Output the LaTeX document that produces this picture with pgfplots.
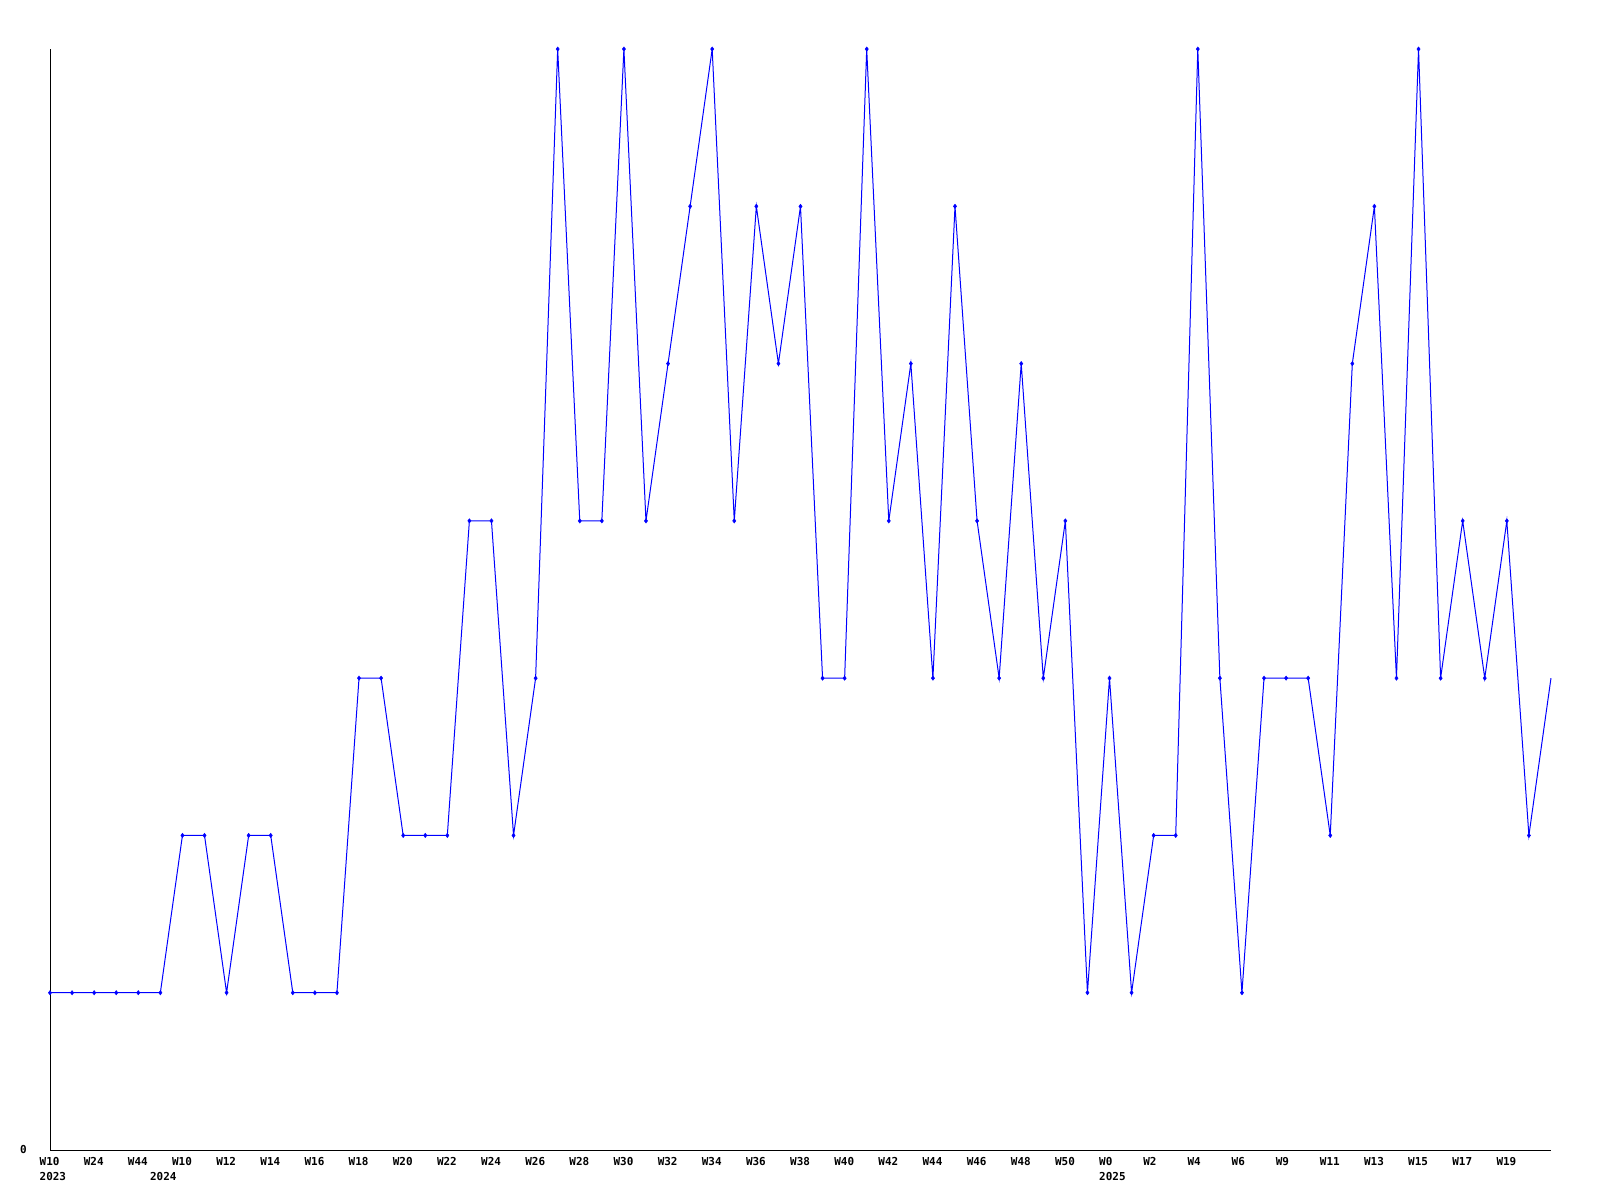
\documentclass[border=0pt]{standalone}
\usepackage{pgfplots}
\pgfplotsset{compat=1.18}
\usepackage{pgfplotstable}
\usepackage{fontspec}
\setmainfont{DejaVu Sans Mono}
\pgfplotstableread{
x y
0 1
1 1
2 1
3 1
4 1
5 1
6 2
7 2
8 1
9 2
10 2
11 1
12 1
13 1
14 3
15 3
16 2
17 2
18 2
19 4
20 4
21 2
22 3
23 7
24 4
25 4
26 7
27 4
28 5
29 6
30 7
31 4
32 6
33 5
34 6
35 3
36 3
37 7
38 4
39 5
40 3
41 6
42 4
43 3
44 5
45 3
46 4
47 1
48 3
49 1
50 2
51 2
52 7
53 3
54 1
55 3
56 3
57 3
58 2
59 5
60 6
61 3
62 7
63 3
64 4
65 3
66 4
67 2
68 3
}\datatable
\begin{document}
\begin{tikzpicture}
\begin{axis}[
  at={(0,0)}, anchor=origin,
  scale only axis,
  width=1501bp, height=1101bp,
  xmin=0, xmax=68, ymin=0, ymax=7,
  axis x line=bottom, axis y line=left,
  axis line style={-, black, line width=1bp},
  major tick length=0pt,
  clip=false,
  xtick={0,2,...,66},
  xticklabels={W10,W24,W44,W10,W12,W14,W16,W18,W20,W22,W24,W26,W28,W30,W32,W34,W36,W38,W40,W42,W44,W46,W48,W50,W0,W2,W4,W6,W9,W11,W13,W15,W17,W19},
  ytick={0}, yticklabels={0},
  x tick label style={font=\fontsize{11}{15}\selectfont\bfseries, anchor=north west, align=left, xshift=-10.5bp, yshift=-7bp, inner sep=0pt},
  y tick label style={font=\fontsize{11}{15}\selectfont\bfseries, anchor=east, xshift=-23bp, inner sep=0pt},
]
\addplot[blue, line width=1bp, no marks] table[x=x, y=y] {\datatable};
\addplot[blue, only marks, mark=diamond*, mark size=2.2bp, restrict x to domain=0:67] table[x=x, y=y] {\datatable};
\node[anchor=north west, inner sep=0pt, xshift=-10.5bp, yshift=-22bp, font=\fontsize{11}{15}\selectfont\bfseries] at (axis cs:0,0) {2023};
\node[anchor=north west, inner sep=0pt, xshift=-10.5bp, yshift=-22bp, font=\fontsize{11}{15}\selectfont\bfseries] at (axis cs:5,0) {2024};
\node[anchor=north west, inner sep=0pt, xshift=-10.5bp, yshift=-22bp, font=\fontsize{11}{15}\selectfont\bfseries] at (axis cs:48,0) {2025};
\end{axis}
\path[use as bounding box] (-50bp,-50bp) rectangle (1550bp,1150bp);
\end{tikzpicture}
\end{document}
